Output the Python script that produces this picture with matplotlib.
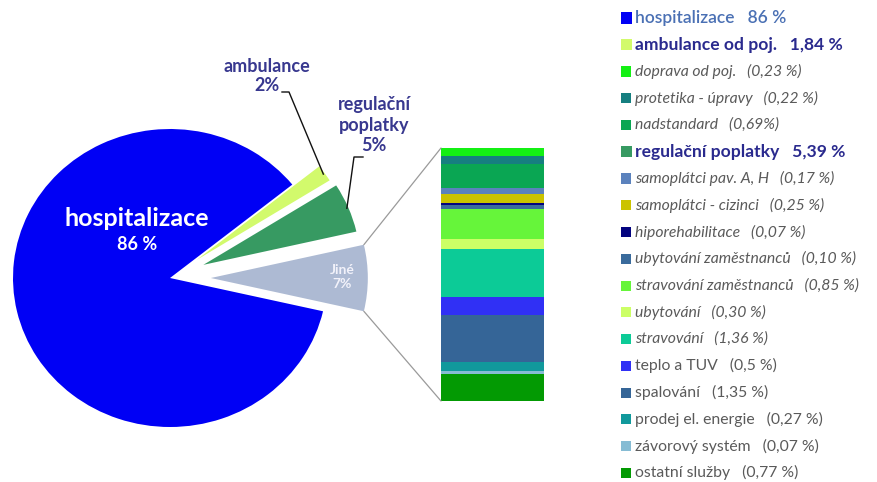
import matplotlib
matplotlib.use('Agg')
import matplotlib.pyplot as plt
from matplotlib.patches import Rectangle, ConnectionPatch
import numpy as np

plt.rcParams['font.family'] = ['Lato', 'DejaVu Sans']

# ---------------- data ----------------
hosp_value = 86.0
ambul_value = 1.84
regul_value = 5.39

other_names = ['doprava od poj.', 'protetika - úpravy', 'nadstandard', 'samoplátci pav. A, H',
               'samoplátci - cizinci', 'hiporehabilitace', 'ubytování zaměstnanců',
               'stravování zaměstnanců', 'ubytování', 'stravování', 'teplo a TUV', 'spalování',
               'prodej el. energie', 'závorový systém', 'ostatní služby']
other_values = [0.23, 0.22, 0.69, 0.17, 0.25, 0.07, 0.10, 0.85, 0.30, 1.36, 0.5, 1.35, 0.27, 0.07, 0.77]
other_colors = ['#14f014', '#167f80', '#0aa653', '#5b82bd', '#cbc300', '#03037f', '#3a6b9c',
                '#66f53a', '#ccff66', '#0ccb97', '#3030f5', '#356597', '#11999c', '#86bcd4', '#039a03']

jine_value = sum(other_values)
pie_values = [jine_value, regul_value, ambul_value, hosp_value]
pie_colors = ['#adbad3', '#379a62', '#d2fa6c', '#0000f5']
pie_explode = [0.26, 0.23, 0.21, 0.0]

legend_labels = ['hospitalizace   86 %', 'ambulance od poj.   1,84 %', 'doprava od poj.   (0,23 %)',
                 'protetika - úpravy   (0,22 %)', 'nadstandard   (0,69%)', 'regulační poplatky   5,39 %',
                 'samoplátci pav. A, H   (0,17 %)', 'samoplátci - cizinci   (0,25 %)',
                 'hiporehabilitace   (0,07 %)', 'ubytování zaměstnanců   (0,10 %)',
                 'stravování zaměstnanců   (0,85 %)', 'ubytování   (0,30 %)', 'stravování   (1,36 %)',
                 'teplo a TUV   (0,5 %)', 'spalování   (1,35 %)', 'prodej el. energie   (0,27 %)',
                 'závorový systém   (0,07 %)', 'ostatní služby   (0,77 %)']

# ---------------- layout ----------------
W, H, DPI = 878, 482, 100
fig = plt.figure(figsize=(W / DPI, H / DPI), dpi=DPI)

def fp(x, y):
    return (x / W, 1 - y / H)

cx, cy, Rx, Ry = 170, 278, 157, 149
ax = fig.add_axes([0, 0, 1, 1])
wedges, _ = ax.pie(pie_values, colors=pie_colors, explode=pie_explode,
                   startangle=-jine_value / sum(pie_values) * 360 / 2, counterclock=True,
                   wedgeprops=dict(linewidth=0))
ax.set_aspect('auto')
ax.set_xlim(-cx / Rx, (W - cx) / Rx)
ax.set_ylim(-(H - cy) / Ry, cy / Ry)
ax.axis('off')

# stacked bar of "Jiné"
bx0, bx1, by0, by1 = 441, 544, 148, 401
axb = fig.add_axes([bx0 / W, 1 - by1 / H, (bx1 - bx0) / W, (by1 - by0) / H])
total = sum(other_values)
top = total
for v, c in zip(other_values, other_colors):
    axb.bar(0, v, bottom=top - v, width=1.0, color=c, linewidth=0)
    top -= v
axb.set_xlim(-0.5, 0.5)
axb.set_ylim(0, total)
axb.axis('off')

# connection lines
wj = wedges[0]
for th, yb in [(wj.theta2, total), (wj.theta1, 0)]:
    xa = wj.center[0] + wj.r * np.cos(np.radians(th))
    ya = wj.center[1] + wj.r * np.sin(np.radians(th))
    con = ConnectionPatch(xyA=(xa, ya), coordsA=ax.transData, xyB=(-0.5, yb), coordsB=axb.transData,
                          color='#9a9a9a', linewidth=0.9)
    fig.add_artist(con)

# pie labels
fig.text(*fp(137, 218), 'hospitalizace', color='white', fontsize=18, fontweight='bold',
         ha='center', va='center')
fig.text(*fp(137, 245), '86 %', color='white', fontsize=13, fontweight='bold',
         ha='center', va='center')
fig.text(*fp(342, 277), 'Jiné\n7%', color='#f2f2fa', fontsize=10, fontweight='bold',
         ha='center', va='center', linespacing=1.25)
label_col = '#38388f'
fig.text(*fp(267, 76), 'ambulance\n2%', color=label_col, fontsize=13, fontweight='bold',
         ha='center', va='center', linespacing=1.2)
fig.text(*fp(374, 125), 'regulační\npoplatky\n5%', color=label_col, fontsize=13, fontweight='bold',
         ha='center', va='center', linespacing=1.22)

def wedge_point(w, frac=1.0):
    mid = np.radians((w.theta1 + w.theta2) / 2)
    return (w.center[0] + w.r * frac * np.cos(mid), w.center[1] + w.r * frac * np.sin(mid))

inv = ax.transData.inverted()
def px2data(x, y):
    return inv.transform(fig.transFigure.transform(fp(x, y)))

for w, elbow in [(wedges[2], [(282, 92), (289, 92)]), (wedges[1], [(363, 157), (354, 157)])]:
    pts = [px2data(*p) for p in elbow] + [wedge_point(w, 0.99)]
    xs = [p[0] for p in pts]
    ys = [p[1] for p in pts]
    ax.plot(xs, ys, color='#111111', linewidth=1.0)

# legend
leg_colors = [pie_colors[3], pie_colors[2]] + other_colors[:3] + [pie_colors[1]] + other_colors[3:]
leg_style = ['hosp', 'main'] + ['it'] * 3 + ['main'] + ['it'] * 7 + ['norm'] * 5
y0, step = 18, 26.75
for i, (lab, col, st) in enumerate(zip(legend_labels, leg_colors, leg_style)):
    y = y0 + i * step
    sq = 11 if st in ('hosp', 'main') else 10
    fig.add_artist(Rectangle(fp(621, y + sq / 2), sq / W, sq / H, transform=fig.transFigure,
                             facecolor=col, edgecolor='none'))
    if st == 'hosp':
        kw = dict(color='#4a70b4', fontsize=12.5, fontweight='semibold')
    elif st == 'main':
        kw = dict(color='#2a2a8e', fontsize=12.6, fontweight='bold')
    elif st == 'it':
        kw = dict(color='#5a5a5a', fontsize=11.3, fontstyle='italic')
    else:
        kw = dict(color='#5a5a5a', fontsize=11.3)
    fig.text(*fp(635, y), lab, ha='left', va='center', **kw)

fig.savefig('out.png', dpi=DPI)
